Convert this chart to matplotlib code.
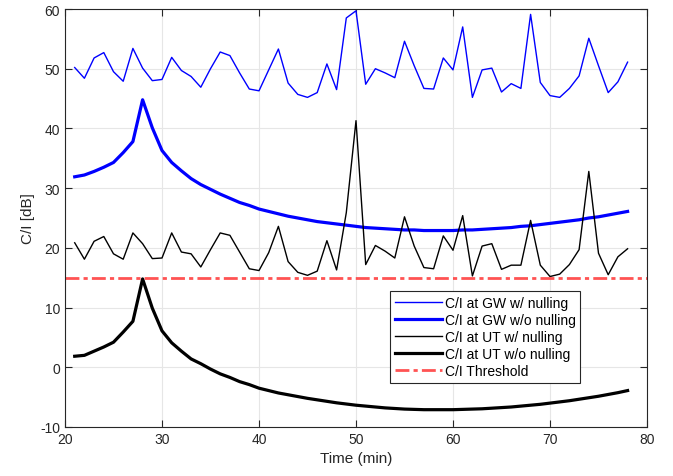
import numpy as np
import matplotlib
matplotlib.use("Agg")
import matplotlib.pyplot as plt

plt.rcParams['font.family'] = ['Liberation Sans', 'DejaVu Sans']
plt.rcParams['axes.unicode_minus'] = False

time_min = list(range(21, 79))

gw_with_nulling = [50.2, 48.4, 51.8, 52.7, 49.5, 47.9, 53.4, 50.1, 48.0, 48.2,
                   51.9, 49.7, 48.7, 46.9, 50.0, 52.8, 52.2, 49.3, 46.6, 46.3,
                   49.8, 53.3, 47.6, 45.7, 45.2, 46.0, 50.8, 46.5, 58.5, 59.7,
                   47.4, 50.0, 49.3, 48.5, 54.6, 50.5, 46.7, 46.6, 51.8, 49.8,
                   57.0, 45.2, 49.8, 50.1, 46.1, 47.5, 46.7, 59.1, 47.7, 45.5,
                   45.2, 46.7, 48.8, 55.1, 50.5, 46.0, 47.8, 51.1]

gw_without_nulling = [31.9, 32.2, 32.8, 33.5, 34.3, 35.95, 37.8, 44.8, 40.1, 36.3,
                      34.3, 32.9, 31.6, 30.6, 29.8, 29.0, 28.3, 27.6, 27.1, 26.5,
                      26.1, 25.7, 25.3, 25.0, 24.7, 24.4, 24.2, 24.0, 23.8, 23.6,
                      23.4, 23.3, 23.2, 23.1, 23.0, 23.0, 22.9, 22.9, 22.9, 22.9,
                      23.0, 23.0, 23.1, 23.2, 23.3, 23.4, 23.6, 23.7, 23.9, 24.1,
                      24.3, 24.5, 24.7, 25.0, 25.2, 25.5, 25.8, 26.1]

ut_with_nulling = [20.85, 18.1, 21.1, 21.9, 19.0, 18.1, 22.5, 20.7, 18.2, 18.3,
                   22.5, 19.3, 19.0, 16.8, 19.7, 22.5, 22.1, 19.3, 16.5, 16.2,
                   19.2, 23.6, 17.7, 15.9, 15.4, 16.1, 21.2, 16.3, 25.9, 41.3,
                   17.2, 20.4, 19.45, 18.3, 25.2, 20.3, 16.7, 16.5, 22.0, 19.6,
                   25.4, 15.3, 20.3, 20.7, 16.4, 17.1, 17.1, 24.6, 17.1, 15.2,
                   15.6, 17.2, 19.7, 32.8, 19.1, 15.5, 18.5, 19.85]

ut_without_nulling = [1.85, 2.0, 2.7, 3.4, 4.2, 5.9, 7.7, 14.8, 9.9, 6.1,
                      4.1, 2.7, 1.4, 0.6, -0.3, -1.1, -1.7, -2.4, -2.9, -3.5,
                      -3.9, -4.3, -4.6, -4.9, -5.2, -5.45, -5.7, -5.95, -6.15, -6.35,
                      -6.5, -6.65, -6.8, -6.9, -7.0, -7.05, -7.1, -7.1, -7.1, -7.1,
                      -7.05, -7.0, -6.95, -6.85, -6.75, -6.65, -6.5, -6.35, -6.2, -6.0,
                      -5.8, -5.6, -5.35, -5.1, -4.85, -4.55, -4.25, -3.9]

threshold = 15
x_limits = [20, 80]
y_limits = [-10, 60]

fig = plt.figure(figsize=(6.73, 4.77), dpi=100)
ax = fig.add_axes([65/673, 1-428/477, 582/673, 418/477])

ax.plot(time_min, gw_with_nulling, color='#0000FF', lw=1.0, label='C/I at GW w/ nulling')
ax.plot(time_min, gw_without_nulling, color='#0000FF', lw=2.3, label='C/I at GW w/o nulling')
ax.plot(time_min, ut_with_nulling, color='black', lw=1.0, label='C/I at UT w/ nulling')
ax.plot(time_min, ut_without_nulling, color='black', lw=2.3, label='C/I at UT w/o nulling')
ax.axhline(threshold, color='#FF4040', alpha=0.9, lw=2.0, ls=(0, (5, 1.5, 1.5, 1.5)), label='C/I Threshold')

ax.set_xlim(x_limits)
ax.set_ylim(y_limits)
ax.set_xticks(np.arange(20, 81, 10))
ax.set_yticks(np.arange(-10, 61, 10))
ax.grid(True, color='#E6E6E6', lw=0.8)
ax.set_axisbelow(True)
for s in ax.spines.values():
    s.set_color('#262626')
    s.set_linewidth(0.8)
ax.tick_params(direction='in', top=True, right=True, colors='#262626', labelsize=10, length=5)
ax.set_xlabel('Time (min)', fontsize=11, color='#262626')
ax.set_ylabel('C/I [dB]', fontsize=11, color='#262626')

leg = ax.legend(loc='upper left', bbox_to_anchor=(0.558, 0.326), borderaxespad=0,
                fontsize=10, fancybox=False, framealpha=1, edgecolor='#262626',
                handlelength=3.4, handletextpad=0.2, labelspacing=0.22, borderpad=0.35)
leg.get_frame().set_linewidth(0.8)

fig.savefig('out.png', dpi=100)
